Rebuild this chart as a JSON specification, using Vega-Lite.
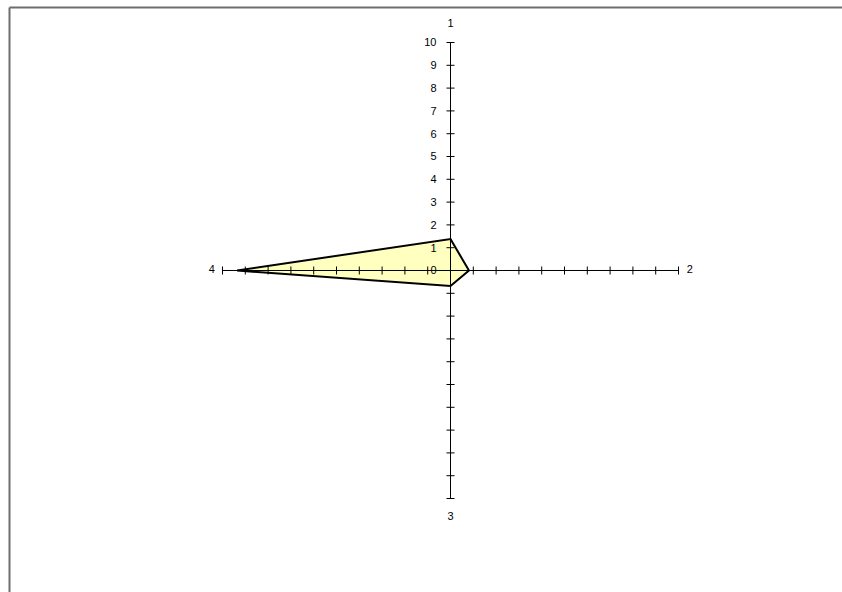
{
  "$schema": "https://vega.github.io/schema/vega-lite/v6.json",
  "width": 833,
  "height": 585,
  "autosize": {"type": "none"},
  "padding": {"left": 9, "top": 7, "right": 0, "bottom": 0},
  "background": "white",
  "config": {"view": {"stroke": null}, "font": "Liberation Sans"},
  "datasets": {
    "axes": [
      {"axis": "1", "x1": 0, "y1": 0, "x2": 0, "y2": 10},
      {"axis": "2", "x1": 0, "y1": 0, "x2": 10, "y2": 0},
      {"axis": "3", "x1": 0, "y1": 0, "x2": 0, "y2": -10},
      {"axis": "4", "x1": 0, "y1": 0, "x2": -10, "y2": 0}
    ],
    "vticks": [
      {"x": 0, "y": 1}, {"x": 0, "y": 2}, {"x": 0, "y": 3}, {"x": 0, "y": 4}, {"x": 0, "y": 5},
      {"x": 0, "y": 6}, {"x": 0, "y": 7}, {"x": 0, "y": 8}, {"x": 0, "y": 9}, {"x": 0, "y": 10},
      {"x": 0, "y": -1}, {"x": 0, "y": -2}, {"x": 0, "y": -3}, {"x": 0, "y": -4}, {"x": 0, "y": -5},
      {"x": 0, "y": -6}, {"x": 0, "y": -7}, {"x": 0, "y": -8}, {"x": 0, "y": -9}, {"x": 0, "y": -10}
    ],
    "hticks": [
      {"x": 1, "y": 0}, {"x": 2, "y": 0}, {"x": 3, "y": 0}, {"x": 4, "y": 0}, {"x": 5, "y": 0},
      {"x": 6, "y": 0}, {"x": 7, "y": 0}, {"x": 8, "y": 0}, {"x": 9, "y": 0}, {"x": 10, "y": 0},
      {"x": -1, "y": 0}, {"x": -2, "y": 0}, {"x": -3, "y": 0}, {"x": -4, "y": 0}, {"x": -5, "y": 0},
      {"x": -6, "y": 0}, {"x": -7, "y": 0}, {"x": -8, "y": 0}, {"x": -9, "y": 0}, {"x": -10, "y": 0}
    ],
    "scale": [
      {"v": 0, "t": "0"}, {"v": 1, "t": "1"}, {"v": 2, "t": "2"}, {"v": 3, "t": "3"},
      {"v": 4, "t": "4"}, {"v": 5, "t": "5"}, {"v": 6, "t": "6"}, {"v": 7, "t": "7"},
      {"v": 8, "t": "8"}, {"v": 9, "t": "9"}, {"v": 10, "t": "10"}
    ],
    "cats": [
      {"name": "1", "x": 0, "y": 10.8, "al": "center"},
      {"name": "3", "x": 0, "y": -10.83, "al": "center"}
    ],
    "catsL": [{"name": "4", "x": -10.33, "y": 0}],
    "catsR": [{"name": "2", "x": 10.36, "y": 0}],
    "series": [
      {"cat": "1", "o": 1, "x": 0, "y": 1.38},
      {"cat": "2", "o": 2, "x": 0.81, "y": 0},
      {"cat": "3", "o": 3, "x": 0, "y": -0.68},
      {"cat": "4", "o": 4, "x": -9.36, "y": 0}
    ]
  },
  "layer": [
    {
      "data": {"name": "series"},
      "mark": {"type": "line", "interpolate": "linear-closed", "fill": "#FFFFC0", "stroke": "#000000", "strokeWidth": 2, "strokeJoin": "miter"},
      "encoding": {
        "x": {"field": "x", "type": "quantitative", "scale": {"domain": [-19.364, 17.171], "nice": false, "zero": false},
          "axis": {"orient": "top", "title": null, "labels": false, "ticks": false, "grid": false, "domain": true, "domainColor": "#6e6e6e", "domainWidth": 2}},
        "y": {"field": "y", "type": "quantitative", "scale": {"domain": [-14.101, 11.557], "nice": false, "zero": false},
          "axis": {"orient": "left", "title": null, "labels": false, "ticks": false, "grid": false, "domain": true, "domainColor": "#6e6e6e", "domainWidth": 2}},
        "order": {"field": "o", "type": "quantitative"}
      }
    },
    {
      "data": {"name": "axes"},
      "mark": {"type": "rule", "color": "#000000", "strokeWidth": 1},
      "encoding": {
        "x": {"field": "x1", "type": "quantitative"},
        "y": {"field": "y1", "type": "quantitative"},
        "x2": {"field": "x2"},
        "y2": {"field": "y2"}
      }
    },
    {
      "data": {"name": "vticks"},
      "mark": {"type": "tick", "orient": "horizontal", "color": "#000000", "size": 8, "thickness": 1, "opacity": 1},
      "encoding": {
        "x": {"field": "x", "type": "quantitative"},
        "y": {"field": "y", "type": "quantitative"}
      }
    },
    {
      "data": {"name": "hticks"},
      "mark": {"type": "tick", "orient": "vertical", "color": "#000000", "size": 8, "thickness": 1, "opacity": 1},
      "encoding": {
        "x": {"field": "x", "type": "quantitative"},
        "y": {"field": "y", "type": "quantitative"}
      }
    },
    {
      "data": {"name": "scale"},
      "mark": {"type": "text", "align": "right", "baseline": "middle", "dx": -14, "dy": 1, "fontSize": 11, "color": "#000000"},
      "encoding": {
        "x": {"datum": 0, "type": "quantitative"},
        "y": {"field": "v", "type": "quantitative"},
        "text": {"field": "t"}
      }
    },
    {
      "data": {"name": "cats"},
      "mark": {"type": "text", "align": "center", "baseline": "middle", "fontSize": 11, "color": "#000000"},
      "encoding": {
        "x": {"field": "x", "type": "quantitative"},
        "y": {"field": "y", "type": "quantitative"},
        "text": {"field": "name"}
      }
    },
    {
      "data": {"name": "catsL"},
      "mark": {"type": "text", "align": "right", "baseline": "middle", "fontSize": 11, "color": "#000000"},
      "encoding": {
        "x": {"field": "x", "type": "quantitative"},
        "y": {"field": "y", "type": "quantitative"},
        "text": {"field": "name"}
      }
    },
    {
      "data": {"name": "catsR"},
      "mark": {"type": "text", "align": "left", "baseline": "middle", "fontSize": 11, "color": "#000000"},
      "encoding": {
        "x": {"field": "x", "type": "quantitative"},
        "y": {"field": "y", "type": "quantitative"},
        "text": {"field": "name"}
      }
    }
  ]
}
